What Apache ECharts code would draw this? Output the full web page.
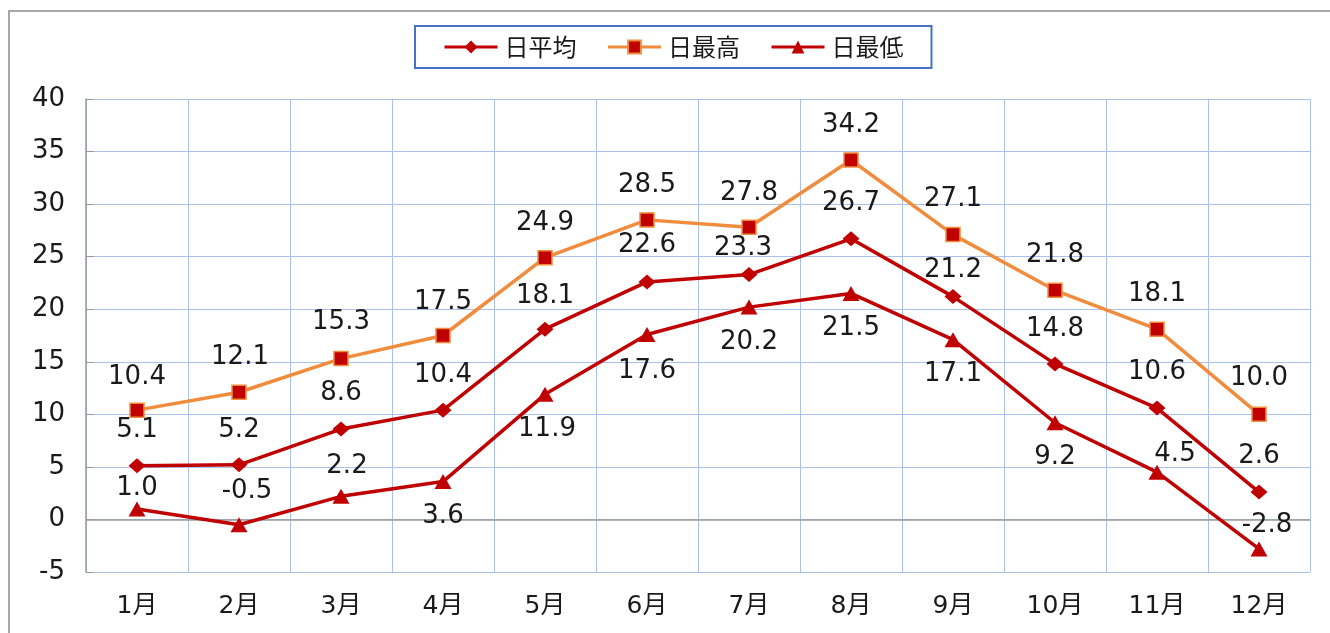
<!DOCTYPE html>
<html>
<head>
<meta charset="utf-8">
<script src="https://cdn.jsdelivr.net/npm/echarts@6/dist/echarts.min.js"></script>
<style>
html,body{margin:0;padding:0;background:#fff;}
#chart{width:1330px;height:633px;}
</style>
</head>
<body>
<div id="chart"></div>
<script>
// ---- data ----
const months = ['1月','2月','3月','4月','5月','6月','7月','8月','9月','10月','11月','12月'];
const seriesNames = ['日平均','日最高','日最低'];
const dailyMean = [5.1, 5.2, 8.6, 10.4, 18.1, 22.6, 23.3, 26.7, 21.2, 14.8, 10.6, 2.6];
const dailyMax  = [10.4, 12.1, 15.3, 17.5, 24.9, 28.5, 27.8, 34.2, 27.1, 21.8, 18.1, 10.0];
const dailyMin  = [1.0, -0.5, 2.2, 3.6, 11.9, 17.6, 20.2, 21.5, 17.1, 9.2, 4.5, -2.8];
const yTicks = { min: -5, max: 40, step: 5 };

// ---- layout: label shifts (px) relative to each point ----
const meanLabelShift = [[0,-36],[0,-35],[0,-36],[0,-35],[0,-33],[0,-37],[-6,-26],[0,-36],[0,-26],[0,-35],[0,-36],[0,-36]];
const maxLabelShift  = [[0,-33],[1,-35],[0,-36],[0,-33],[0,-34],[0,-35],[0,-34],[0,-35],[0,-35],[0,-35],[0,-35],[0,-36]];
const minLabelShift  = [[0,-21],[8,-33],[6,-30],[0,35],[2,35],[0,37],[0,35],[0,35],[0,35],[0,35],[18,-18],[8,-24]];

const DARK = '#c00000';
const ORANGE = '#f08c3c';
const GRIDC = '#a9c1ec';
const AXISC = '#9a9a9a';
const FONT = '"DejaVu Sans", "Noto Sans CJK JP", sans-serif';
const labelStyle = { color: '#1a1a1a', fontSize: 26, fontFamily: FONT, formatter: p => Number(p.value).toFixed(1) };

function withLabels(vals, shifts) {
  return vals.map((v, i) => ({
    value: v,
    label: { show: true, position: 'inside', offset: shifts[i] }
  }));
}

const chart = echarts.init(document.getElementById('chart'), null, { renderer: 'canvas' });
chart.setOption({
  animation: false,
  backgroundColor: '#fff',
  graphic: [{
    type: 'rect', z: -10, silent: true,
    shape: { x: 9, y: 11, width: 1400, height: 700 },
    style: { fill: 'none', stroke: '#a6a6a6', lineWidth: 2 }
  }],
  legend: {
    data: seriesNames,
    left: 415, top: 26,
    padding: [9, 28, 9, 28],
    borderColor: '#4472c4', borderWidth: 2,
    itemWidth: 53, itemHeight: 16, itemGap: 30,
    lineStyle: { width: 3 },
    textStyle: { fontSize: 24, fontFamily: '"Noto Sans CJK JP", sans-serif', color: '#1a1a1a', padding: [0,0,0,2] }
  },
  grid: { left: 86, right: 20, top: 99, bottom: 61, containLabel: false, outerBoundsMode: 'none' },
  xAxis: {
    type: 'category',
    data: months,
    boundaryGap: true,
    axisLine: { show: false, onZero: false },
    axisTick: { show: false },
    axisLabel: { margin: 22, fontSize: 25, fontFamily: FONT, color: '#1a1a1a' },
    splitLine: { show: true, interval: 0, lineStyle: { color: GRIDC, width: 1 } }
  },
  yAxis: {
    type: 'value',
    min: yTicks.min, max: yTicks.max, interval: yTicks.step,
    axisLine: { show: true, lineStyle: { color: AXISC, width: 1.5 } },
    axisTick: { show: true, inside: true, length: 8, lineStyle: { color: AXISC } },
    axisLabel: { margin: 21, fontSize: 26, fontFamily: FONT, color: '#1a1a1a' },
    splitLine: { show: true, lineStyle: { color: GRIDC, width: 1 } }
  },
  series: [
    {
      name: seriesNames[0], type: 'line',
      data: withLabels(dailyMean, meanLabelShift),
      symbol: 'diamond', symbolSize: [17, 15],
      lineStyle: { color: DARK, width: 3.5 },
      itemStyle: { color: DARK },
      label: Object.assign({ show: true }, labelStyle),
      markLine: {
        silent: true, symbol: 'none', label: { show: false },
        lineStyle: { color: AXISC, width: 1.5, type: 'solid' },
        data: [{ yAxis: 0 }],
        z: 1
      },
      z: 3
    },
    {
      name: seriesNames[1], type: 'line',
      data: withLabels(dailyMax, maxLabelShift),
      symbol: 'rect', symbolSize: 14,
      lineStyle: { color: ORANGE, width: 3.5 },
      itemStyle: { color: DARK, borderColor: ORANGE, borderWidth: 1.5 },
      label: Object.assign({ show: true }, labelStyle),
      z: 3
    },
    {
      name: seriesNames[2], type: 'line',
      data: withLabels(dailyMin, minLabelShift),
      symbol: 'triangle', symbolSize: [17, 15],
      lineStyle: { color: DARK, width: 3.5 },
      itemStyle: { color: DARK },
      label: Object.assign({ show: true }, labelStyle),
      z: 3
    }
  ]
});
</script>
</body>
</html>
